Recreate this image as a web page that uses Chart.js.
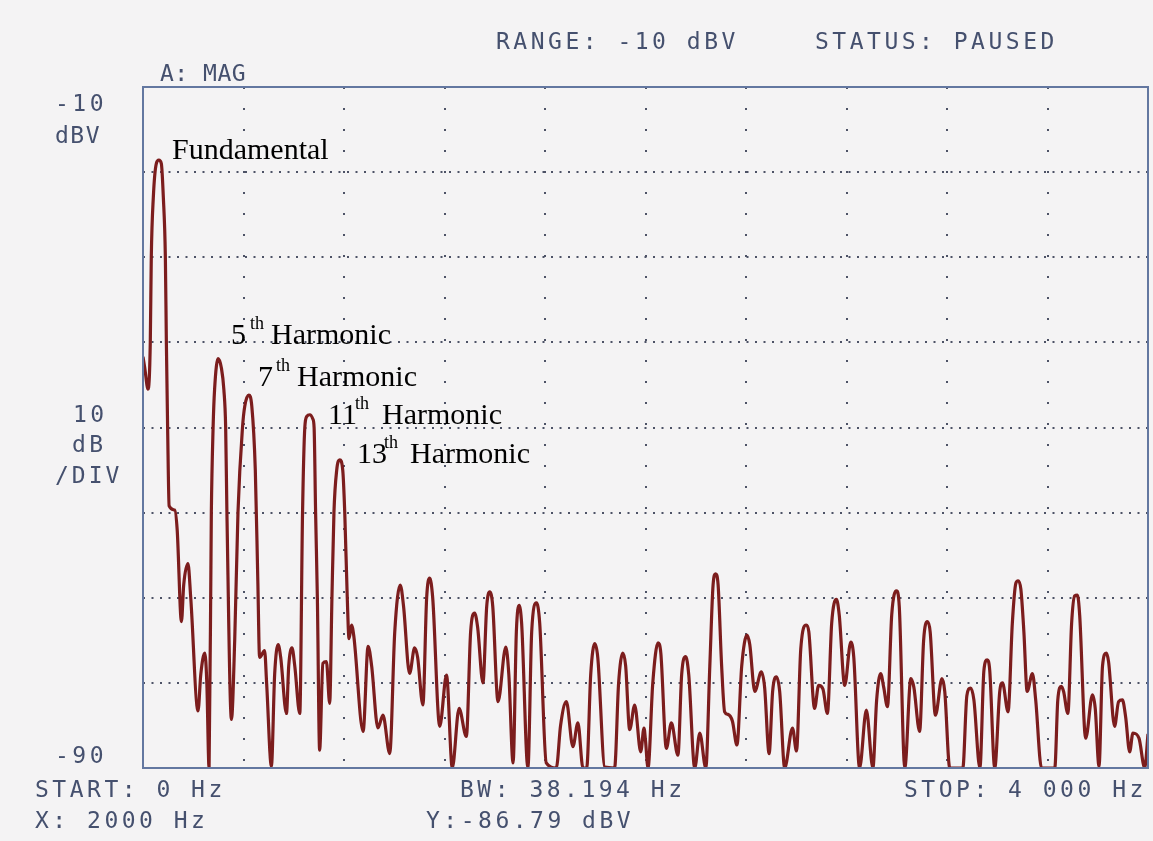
<!DOCTYPE html>
<html>
<head>
<meta charset="utf-8">
<title>Spectrum</title>
<script src="https://cdn.jsdelivr.net/npm/chart.js@4.4.1/dist/chart.umd.min.js"></script>
<style>
  html, body { margin: 0; padding: 0; background: #f4f3f4; }
  canvas { display: block; }
</style>
</head>
<body>
<canvas id="spectrum" width="1153" height="841"></canvas>
<script>
// trace vertices, frequency in Hz and level in dBV
var freqHz = [
  0, 7, 20, 29, 33, 41, 53, 63, 73, 81, 89, 93, 98, 104, 126, 136, 153, 162, 179, 190,
  219, 230, 246, 254, 263, 272, 279, 285, 299, 312, 322, 329, 334, 352, 365, 378, 396, 405, 421, 433,
  447, 457, 464, 484, 492, 511, 524, 538, 548, 571, 580, 593, 604, 624, 635, 644, 652, 664, 676, 681,
  687, 694, 703, 716, 730, 743, 752, 760, 771, 783, 795, 803, 813, 820, 830, 839,
  876, 896, 910, 935, 955, 982, 1002, 1024, 1037, 1061, 1081, 1093, 1114, 1129, 1141, 1153, 1181,
  1208, 1231, 1258, 1287, 1304, 1320, 1332, 1353, 1368, 1380, 1392, 1413, 1444, 1456, 1473, 1486, 1497, 1507, 1532, 1547,
  1566, 1579, 1605, 1645, 1662, 1685, 1711, 1731, 1751, 1766, 1782, 1798, 1810, 1838, 1877, 1893, 1910, 1921, 1937, 1957,
  1981, 1994, 2000, 2010, 2029, 2050, 2061, 2083, 2103, 2129, 2144, 2160, 2172, 2196, 2216, 2240, 2256, 2269, 2279, 2289,
  2303, 2315, 2328, 2346, 2364, 2383, 2404, 2415, 2435, 2461, 2474, 2492, 2506, 2521, 2534, 2554, 2585, 2601, 2618, 2640,
  2650, 2673, 2689, 2706, 2724, 2741, 2760, 2771, 2793, 2817, 2829, 2852, 2879, 2905, 2920, 2936, 2948, 2963, 2980, 2999,
  3010, 3032, 3056, 3068, 3091, 3107, 3122, 3133, 3154, 3180, 3191, 3211, 3263, 3279, 3294, 3307, 3331, 3347, 3360, 3370,
  3390, 3410, 3421, 3443, 3460, 3474, 3483, 3494, 3506, 3519, 3540, 3553, 3576, 3629, 3641, 3655, 3664, 3681, 3696, 3708,
  3719, 3728, 3752, 3779, 3790, 3805, 3819, 3834, 3843, 3867, 3883, 3898, 3911, 3927, 3940, 3964, 3987, 4000
];
var levelDbv = [
  -41.7, -43, -45.5, -40, -30, -23, -19, -18.6, -19, -23, -30, -40, -50, -59.2, -59.7, -62, -72.8, -68.5, -66, -70,
  -83.3, -79, -76.5, -80, -90, -60, -50, -45.5, -41.9, -43, -45.6, -50, -60, -84.3, -75, -60, -50, -47.5, -46.2, -47.5,
  -55, -68, -77, -76.2, -80, -89.8, -79, -75.5, -77, -83.6, -78, -75.9, -78, -83.6, -60, -50, -48.7, -48.5, -49, -50,
  -60, -70, -87.9, -77.7, -77.5, -82.4, -70, -60, -55, -53.8, -55, -60, -70, -74.8, -73.2, -74.5,
  -85.7, -75.7, -78, -85.3, -83.8, -88.3, -74, -68.5, -71, -78.9, -75.9, -77, -82.6, -70, -67.7, -70, -85.1,
  -79.1, -90, -83, -86.3, -74, -71.8, -73.5, -80, -71, -69.3, -71, -82.2, -75.8, -79, -89.4, -74, -70.9, -73, -90, -74,
  -70.6, -73, -89.4, -90, -85, -82.2, -87.5, -84.7, -90, -90, -79, -75.4, -77, -89.9, -90, -80, -76.5, -78, -85.5, -82.6,
  -88.1, -85.3, -86.79, -90, -80, -75.3, -76.5, -87.7, -84.7, -88.5, -79, -76.9, -79, -90, -85.9, -90, -78, -68.5, -67.2, -68.5,
  -78, -83.4, -83.7, -84.5, -87.3, -78, -74.4, -75.5, -81, -78.7, -80.5, -88.3, -81, -79.3, -81, -90, -85.3, -88, -76, -73.2,
  -74, -83, -80.3, -80.7, -83.6, -73, -70.2, -72, -80.3, -75.2, -77, -90, -83.2, -90, -82, -78.9, -80.5, -82.8, -72, -69.2,
  -71, -90, -79.5, -80.5, -85.7, -75, -72.8, -74, -83.8, -79.5, -81, -90, -90, -81.5, -80.6, -82, -90, -78.5, -77.3, -78.5,
  -90, -81, -80, -83.4, -73, -68.3, -68, -69, -74, -81, -78.9, -82, -90, -90, -82, -80.4, -81, -83.6, -73, -69.8,
  -69.7, -72, -86.5, -81.4, -83, -89.8, -78, -76.5, -77.5, -85.1, -82.2, -82, -84, -88.1, -85.9, -86.5, -90, -86
];

// harmonic annotations: order number, then where each piece starts and its baseline
var harmonicOrder = ['5', '7', '11', '13'];
var numberX = [231, 258, 328, 357];
var suffixX = [250, 276, 355, 384];
var wordX = [271, 297, 382, 410];
var labelBase = [344, 386, 424, 463];

// left-hand scale legends
var scaleTop = ['-10', 'dBV'];
var scaleMid = ['10', 'dB', '/DIV'];
var scaleBottom = '-90';

var headerText = ['RANGE: -10 dBV', 'STATUS: PAUSED'];
var footerText = ['START: 0 Hz', 'BW: 38.194 Hz', 'STOP: 4 000 Hz', 'X: 2000 Hz', 'Y:-86.79 dBV'];

var ink = '#45506e';
var mono = '23px "DejaVu Sans Mono", monospace';
var serif = '"Liberation Serif", "Times New Roman", serif';

function monoText(ctx, s, x, y, spacing) {
    ctx.save();
    ctx.font = mono;
    ctx.fillStyle = ink;
    ctx.textBaseline = 'alphabetic';
    if ('letterSpacing' in ctx) ctx.letterSpacing = spacing + 'px';
    ctx.fillText(s, x, y);
    ctx.restore();
}

var panelText = {
    id: 'panelText',
    afterDraw: function (chart) {
        var ctx = chart.ctx;
        var a = chart.chartArea;

        // frame
        ctx.save();
        ctx.strokeStyle = '#6377a0';
        ctx.lineWidth = 2;
        ctx.strokeRect(a.left, a.top, a.right - a.left, a.bottom - a.top);
        ctx.restore();

        monoText(ctx, headerText[0], 496, 49, 3.5);
        monoText(ctx, headerText[1], 815, 49, 3.5);
        monoText(ctx, 'A: MAG', 160, 81, 0.5);

        monoText(ctx, scaleTop[0], 55, 111, 3.5);
        monoText(ctx, scaleTop[1], 55, 143, 1.5);
        monoText(ctx, scaleMid[0], 73, 422, 3.5);
        monoText(ctx, scaleMid[1], 72, 452, 3.5);
        monoText(ctx, scaleMid[2], 55, 483, 3);
        monoText(ctx, scaleBottom, 55, 763, 3.5);

        monoText(ctx, footerText[0], 35, 797, 3.5);
        monoText(ctx, footerText[1], 460, 797, 3.5);
        monoText(ctx, footerText[2], 904, 797, 3.5);
        monoText(ctx, footerText[3], 35, 828, 3.5);
        monoText(ctx, footerText[4], 426, 828, 3.5);

        // peak labels
        ctx.save();
        ctx.fillStyle = '#000';
        ctx.textBaseline = 'alphabetic';
        ctx.font = '30px ' + serif;
        ctx.fillText('Fundamental', 172, 159);

        for (var i = 0; i < harmonicOrder.length; i++) {
            ctx.font = '30px ' + serif;
            ctx.fillText(harmonicOrder[i], numberX[i], labelBase[i]);
            ctx.fillText('Harmonic', wordX[i], labelBase[i]);
            ctx.font = '18px ' + serif;
            ctx.fillText('th', suffixX[i], labelBase[i] - 15);
        }
        ctx.restore();
    }
};

var points = freqHz.map(function (f, i) { return { x: f, y: levelDbv[i] }; });

var ctx = document.getElementById('spectrum').getContext('2d');
var myChart = new Chart(ctx, {
    type: 'line',
    data: {
        datasets: [{
            data: points,
            borderColor: '#7c1d1d',
            borderWidth: 3.2,
            pointRadius: 0,
            cubicInterpolationMode: 'monotone',
            fill: false
        }]
    },
    options: {
        responsive: false,
        animation: false,
        layout: { padding: { left: 143, top: 87, right: 5, bottom: 73 } },
        plugins: {
            legend: { display: false },
            tooltip: { enabled: false }
        },
        scales: {
            x: {
                type: 'linear',
                min: 0,
                max: 4000,
                ticks: { display: false, stepSize: 400 },
                grid: { color: '#4d5266', lineWidth: 2, drawTicks: false },
                border: { display: false, dash: [2, 19] }
            },
            y: {
                min: -90,
                max: -10,
                ticks: { display: false, stepSize: 10 },
                grid: { color: '#4d5266', lineWidth: 2, drawTicks: false },
                border: { display: false, dash: [2, 6.5] }
            }
        }
    },
    plugins: [panelText]
});
</script>
</body>
</html>
